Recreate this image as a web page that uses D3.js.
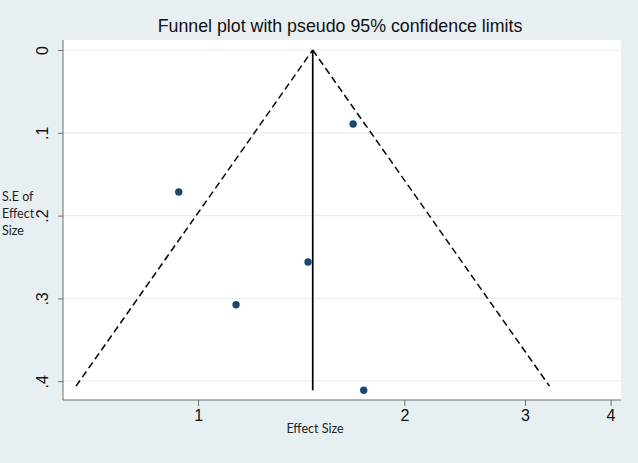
<!DOCTYPE html>
<html><head><meta charset="utf-8">
<script src="https://cdn.jsdelivr.net/npm/d3@7"></script>
<style>body{margin:0;background:#e8eff2;}svg{display:block;}</style>
</head><body>
<svg id="c" width="638" height="463"></svg>
<script>
const effectSize = [1.684, 0.937, 1.447, 1.136, 1.745];
const seEffect   = [0.0894, 0.1715, 0.256, 0.3076, 0.411];
const pooled = 1.470;
const xTicks = [1, 2, 3, 4];
const yTicks = [0, 0.1, 0.2, 0.3, 0.4];
const yTickLabels = ["0", ".1", ".2", ".3", ".4"];
const titleText = "Funnel plot with pseudo 95% confidence limits";
const yTitle = ["S.E of", "Effect", "Size"];
const xTitle = "Effect Size";

const svg = d3.select("#c");
const L = 63, R = 621, T = 40, B = 400;
svg.append("rect").attr("width",638).attr("height",463).attr("fill","#e8eff2");
svg.append("rect").attr("x",L).attr("y",T).attr("width",R-L).attr("height",B-T).attr("fill","#ffffff");

const x = d3.scaleLog().domain([0.635, 4.143]).range([L, R]);
const y = d3.scaleLinear().domain([-0.0121, 0.4227]).range([T, B]);

// gridlines
svg.append("g").selectAll("line").data(yTicks).join("line")
  .attr("x1", L).attr("x2", R).attr("y1", d=>y(d)).attr("y2", d=>y(d))
  .attr("stroke","#e3eef0").attr("stroke-width",1.2);

// y axis
const yAxis = svg.append("g").attr("transform",`translate(${L},0)`)
  .call(d3.axisLeft(y).tickValues(yTicks).tickFormat((d,i)=>yTickLabels[i]).tickSize(5).tickPadding(6));
yAxis.select(".domain").attr("stroke","#6d6d6d").attr("d",`M0,${T}V${B}`);
yAxis.selectAll(".tick line").attr("stroke","#6d6d6d");
yAxis.selectAll(".tick text").attr("font-family","Liberation Sans, Arial, sans-serif").attr("font-size",16).attr("fill","#111")
  .attr("x", null).attr("dy","0")
  .attr("text-anchor","middle")
  .attr("transform","translate(-15,0) rotate(-90)");

// x axis
const xAxis = svg.append("g").attr("transform",`translate(0,${B})`)
  .call(d3.axisBottom(x).tickValues(xTicks).tickFormat(d3.format("d")).tickSize(6).tickPadding(4));
xAxis.select(".domain").attr("stroke","#6d6d6d").attr("d",`M${L},0H${R}`);
xAxis.selectAll(".tick line").attr("stroke","#6d6d6d");
xAxis.selectAll(".tick text").attr("font-family","Liberation Sans, Arial, sans-serif").attr("font-size",16).attr("fill","#111");

// funnel
const seMax = d3.max(seEffect);
const seLine = 0.406;
const z = 1.96;
const lnP = Math.log(pooled);
const leftPts = [[Math.exp(lnP - z*seLine), seLine],[pooled,0]];
const rightPts = [[pooled,0],[Math.exp(lnP + z*seLine), seLine]];
const line = d3.line().x(d=>x(d[0])).y(d=>y(d[1]));
svg.append("path").attr("d", line(leftPts)).attr("fill","none").attr("stroke","#000").attr("stroke-width",1.5).attr("stroke-dasharray","7,4");
svg.append("path").attr("d", line(rightPts)).attr("fill","none").attr("stroke","#000").attr("stroke-width",1.5).attr("stroke-dasharray","7,4");
svg.append("path").attr("d", line([[pooled,0],[pooled,seMax]])).attr("fill","none").attr("stroke","#000").attr("stroke-width",1.7);

// points
svg.append("g").selectAll("circle").data(effectSize).join("circle")
  .attr("cx",(d)=>x(d)).attr("cy",(d,i)=>y(seEffect[i])).attr("r",3.7).attr("fill","#1a476f");

// title
svg.append("text").attr("x",340).attr("y",32).attr("text-anchor","middle")
  .attr("font-family","Liberation Sans, Arial, sans-serif").attr("font-size",17.8).attr("fill","#111").text(titleText);

// y title
svg.append("g").selectAll("text").data(yTitle).join("text")
  .attr("x",2).attr("y",(d,i)=>201+i*17).attr("font-family","Lato, Open Sans, sans-serif").attr("font-size",12.5).attr("fill","#222").text(d=>d);

// x title
svg.append("text").attr("x",315).attr("y",433).attr("text-anchor","middle")
  .attr("font-family","Lato, Open Sans, sans-serif").attr("font-size",12.5).attr("fill","#222").text(xTitle);
</script>
</body></html>
